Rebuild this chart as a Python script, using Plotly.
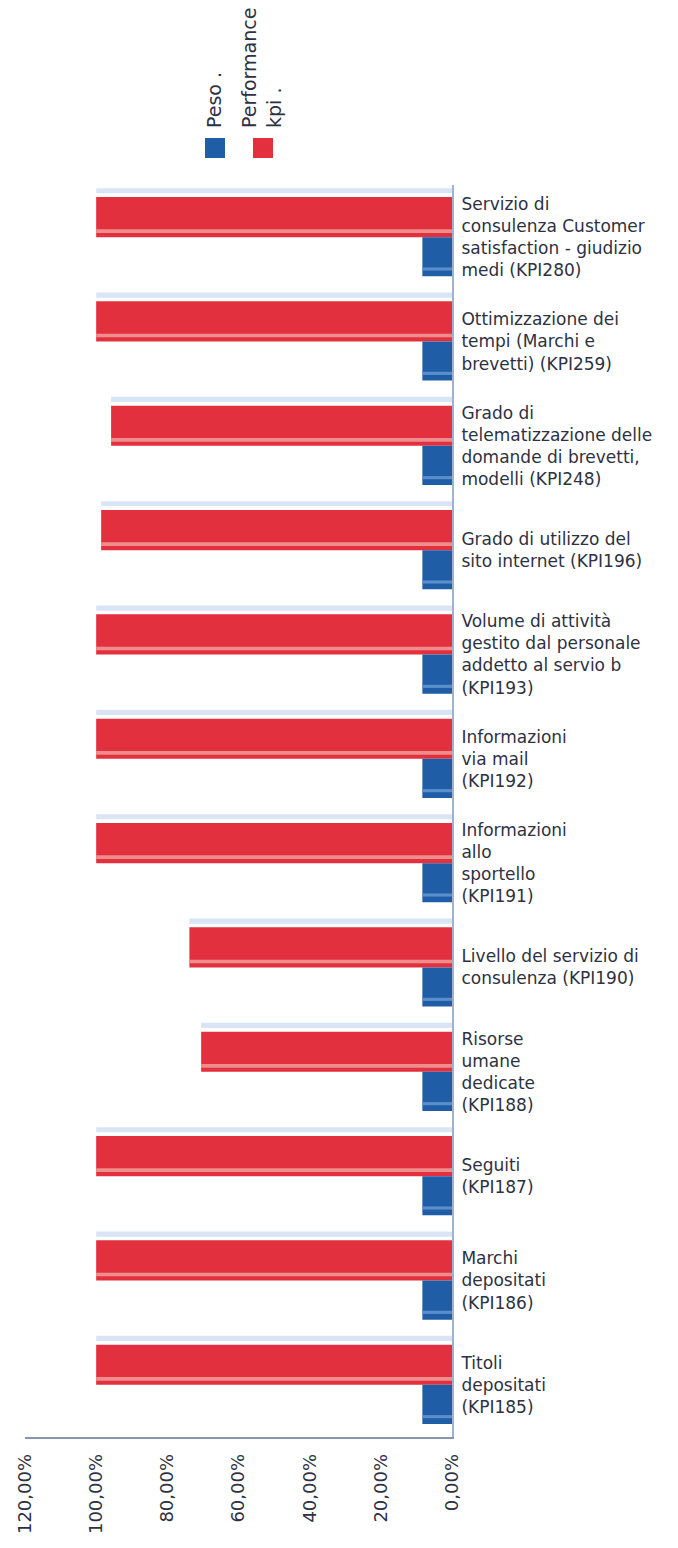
import plotly.graph_objects as go

# KPI labels, top to bottom
categories = [
    "Servizio di<br>consulenza Customer<br>satisfaction - giudizio<br>medi (KPI280)",
    "Ottimizzazione dei<br>tempi (Marchi e<br>brevetti) (KPI259)",
    "Grado di<br>telematizzazione delle<br>domande di brevetti,<br>modelli (KPI248)",
    "Grado di utilizzo del<br>sito internet (KPI196)",
    "Volume di attività<br>gestito dal personale<br>addetto al servio b<br>(KPI193)",
    "Informazioni<br>via mail<br>(KPI192)",
    "Informazioni<br>allo<br>sportello<br>(KPI191)",
    "Livello del servizio di<br>consulenza (KPI190)",
    "Risorse<br>umane<br>dedicate<br>(KPI188)",
    "Seguiti<br>(KPI187)",
    "Marchi<br>depositati<br>(KPI186)",
    "Titoli<br>depositati<br>(KPI185)",
]

# values in percent
performance_kpi = [100, 100, 95.8, 98.6, 100, 100, 100, 73.8, 70.5, 100, 100, 100]
peso = [8.33] * 12

tick_vals = [0, 20, 40, 60, 80, 100, 120]
tick_text = ["0,00%", "20,00%", "40,00%", "60,00%", "80,00%", "100,00%", "120,00%"]

RED = "#e3303f"
RED_LIGHT = "#ef8d8c"
BLUE = "#1f5ea6"
BLUE_LIGHT = "#5a8fcc"
FACE = "rgba(170,195,230,0.45)"
TEXT = "#2e3142"
FONT = "DejaVu Sans, Verdana, sans-serif"

fig = go.Figure()

# light top face of the red bars
fig.add_trace(go.Bar(
    y=categories, x=performance_kpi, orientation="h",
    width=0.05, offset=-0.47, marker=dict(color=FACE, line=dict(width=0)),
    showlegend=False, hoverinfo="skip",
))
# Performance kpi
fig.add_trace(go.Bar(
    y=categories, x=performance_kpi, orientation="h", name="Performance kpi .",
    width=0.385, offset=-0.385, marker=dict(color=RED, line=dict(width=0)),
))
# highlight stripe on the red bars
fig.add_trace(go.Bar(
    y=categories, x=performance_kpi, orientation="h",
    width=0.035, offset=-0.075, marker=dict(color=RED_LIGHT, line=dict(width=0)),
    showlegend=False, hoverinfo="skip",
))
# Peso
fig.add_trace(go.Bar(
    y=categories, x=peso, orientation="h", name="Peso .",
    width=0.375, offset=0.0, marker=dict(color=BLUE, line=dict(width=0)),
))
# highlight stripe on the blue bars
fig.add_trace(go.Bar(
    y=categories, x=peso, orientation="h",
    width=0.03, offset=0.29, marker=dict(color=BLUE_LIGHT, line=dict(width=0)),
    showlegend=False, hoverinfo="skip",
))

W, H = 678, 1548
L, R, T, B = 25, 226, 185, 111
pw, ph = W - L - R, H - T - B


def px(x):
    return (x - L) / pw


def py(y):
    return (H - B - y) / ph


# hand-drawn legend with rotated labels
shapes = [
    dict(type="rect", xref="paper", yref="paper", x0=px(205), x1=px(225), y0=py(158), y1=py(138),
         fillcolor=BLUE, line=dict(width=0)),
    dict(type="rect", xref="paper", yref="paper", x0=px(253), x1=px(273), y0=py(158), y1=py(138),
         fillcolor=RED, line=dict(width=0)),
]
annotations = [
    dict(xref="paper", yref="paper", x=px(214), y=py(130), text="Peso .", showarrow=False,
         textangle=-90, xanchor="center", yanchor="bottom", align="left",
         font=dict(family=FONT, size=19, color=TEXT)),
    dict(xref="paper", yref="paper", x=px(262), y=py(130), text="Performance<br>kpi .", showarrow=False,
         textangle=-90, xanchor="center", yanchor="bottom", align="left",
         font=dict(family=FONT, size=19, color=TEXT)),
]

fig.update_layout(
    width=W, height=H,
    margin=dict(l=L, r=R, t=T, b=B),
    paper_bgcolor="white", plot_bgcolor="white",
    barmode="overlay",
    showlegend=False,
    shapes=shapes, annotations=annotations,
    font=dict(family=FONT, color=TEXT),
)
fig.update_xaxes(
    range=[120, 0], tickvals=tick_vals, ticktext=tick_text, tickangle=-90,
    showgrid=False, zeroline=False, showline=True, linecolor="#8796ad", linewidth=1.5,
    ticks="", ticklabelstandoff=8, tickfont=dict(family=FONT, size=18, color=TEXT),
)
fig.update_yaxes(
    autorange="reversed", side="right", showgrid=False, zeroline=False,
    showline=True, linecolor="#9fb3d1", linewidth=2, ticks="", ticklabelstandoff=4,
    tickfont=dict(family=FONT, size=17, color=TEXT),
)

fig.write_html("out.html")
